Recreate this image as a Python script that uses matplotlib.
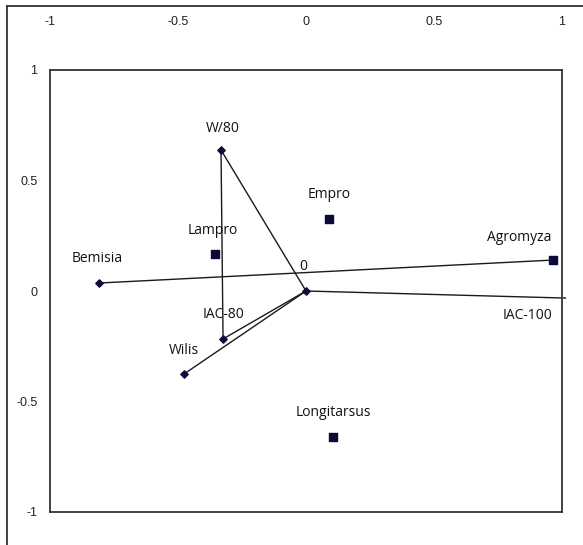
import matplotlib.pyplot as plt
from matplotlib.lines import Line2D

# genotype vectors (diamonds)
geno_names = ['0', 'W/80', 'IAC-80', 'Wilis', 'Bemisia', 'IAC-100']
geno_x = [0.0, -0.332, -0.324, -0.477, -0.809, 1.016]
geno_y = [0.0, 0.638, -0.217, -0.376, 0.036, -0.032]

# insect points (squares)
insect_names = ['Lampro', 'Empro', 'Agromyza', 'Longitarsus']
insect_x = [-0.355, 0.09, 0.965, 0.105]
insect_y = [0.167, 0.326, 0.14, -0.66]

# segments joining named points
links = [('Bemisia', 'Agromyza'), ('0', 'IAC-100'), ('W/80', '0'),
         ('W/80', 'IAC-80'), ('IAC-80', '0'), ('Wilis', '0')]

xticks = [-1, -0.5, 0, 0.5, 1]
yticks = [-1, -0.5, 0, 0.5, 1]

pts = {}
for n, x, y in zip(geno_names, geno_x, geno_y):
    pts[n] = (x, y)
for n, x, y in zip(insect_names, insect_x, insect_y):
    pts[n] = (x, y)

W, H = 583, 545
fig = plt.figure(figsize=(W / 100, H / 100), dpi=100)
ax = fig.add_axes([50 / W, (H - 512) / H, (562 - 50) / W, (512 - 70) / H])

for a, b in links:
    ax.plot([pts[a][0], pts[b][0]], [pts[a][1], pts[b][1]], color='#1a1a1a',
            lw=1.0, solid_capstyle='butt', zorder=2, clip_on=False)

navy = '#0b0b3b'
ax.scatter(geno_x[:-1], geno_y[:-1], marker='D', s=14, color=navy, zorder=3)
ax.scatter(insect_x, insect_y, marker='s', s=30, color=navy, zorder=3)

# label offsets in pixels (dx, dy)
offs = {'Agromyza': (-34, 23), 'IAC-100': (-39, -17), 'W/80': (2, 22),
        'Bemisia': (-2, 25), 'Lampro': (-2, 24), '0': (-3, 24)}
for n, (x, y) in pts.items():
    dx, dy = offs.get(n, (0, 24))
    ax.annotate(n, (x, y), xytext=(dx, dy), textcoords='offset pixels',
                ha='center', va='center', fontsize=10, family='Open Sans',
                color='#111111', annotation_clip=False)

ax.set_xlim(-1, 1)
ax.set_ylim(-1, 1)
ax.set_xticks(xticks)
ax.set_yticks(yticks)
ax.set_xticklabels([f'{t:g}' for t in xticks], family='Liberation Sans', fontsize=9)
ax.set_yticklabels([f'{t:g}' for t in yticks], family='Liberation Sans', fontsize=9)
ax.xaxis.tick_top()
ax.tick_params(axis='x', length=0, pad=30, colors='#222222')
ax.tick_params(axis='y', length=0, pad=9, colors='#222222')
for s in ax.spines.values():
    s.set_color('#333333')
    s.set_linewidth(1.3)

# outer border (left and top visible)
fig.add_artist(Line2D([7 / W, 7 / W], [0, 1 - 6 / H], transform=fig.transFigure,
                      color='#333333', lw=1.3))
fig.add_artist(Line2D([7 / W, 1], [1 - 6 / H, 1 - 6 / H], transform=fig.transFigure,
                      color='#333333', lw=1.3))

fig.savefig('out.png', dpi=100)
